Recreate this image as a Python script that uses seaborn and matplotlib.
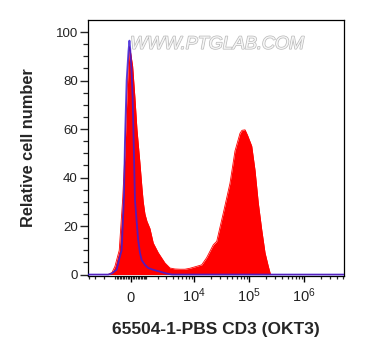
import numpy as np
import matplotlib
matplotlib.use("Agg")
import matplotlib.pyplot as plt
import matplotlib.patheffects as pe
from matplotlib.ticker import FixedLocator, FixedFormatter
import pandas as pd
import seaborn as sns

# ---- data (fluorescence intensity vs relative cell number) ----
red_x = [-4200, -1600, -1265, -1033, -820, -731, -508, -364, -260, -162, -90, -30,
         102, 241, 365, 554, 683, 772, 890, 1033, 1264, 1543, 2020, 2800, 3530,
         4400, 5480, 6790, 8410, 11180, 13790, 17000, 22440, 25870, 34100, 45100,
         55600, 68600, 74600, 84600, 93800, 112000, 128600, 147500, 170200,
         195300, 224000, 245800, 5.3e6]
red_y = [0, 0, 0.8, 3.4, 8, 10, 31, 50, 70, 86, 94, 92,
         86, 73, 60, 46, 36, 30, 25, 22, 19, 13, 9, 4.8, 2.7,
         2.3, 2.2, 2.2, 2.6, 3.4, 4, 7, 12.3, 13.7, 25.4, 37.7,
         51, 58.3, 59.5, 59.7, 57.5, 53, 43, 29.5, 18.5,
         9, 3.4, 0, 0]

blue_x = [-4200, -1575, -1265, -910, -750, -573, -471, -426, -364, -260, -150, -90,
          -42, 30, 102, 180, 241, 345, 445, 554, 664, 890, 1132, 1518, 2210, 3030,
          3850, 5.3e6]
blue_y = [0, 0, 0.5, 2, 6, 10, 25, 32, 55, 80, 92, 96.5,
          93, 85, 73, 50, 31, 22, 14, 9, 6, 4, 2.7, 2, 1.2, 0.4,
          0, 0]

x_major = [0, 1e4, 1e5, 1e6]
x_major_labels = ["0", r"$10^{4}$", r"$10^{5}$", r"$10^{6}$"]
y_major = [0, 20, 40, 60, 80, 100]

xlabel = "65504-1-PBS CD3 (OKT3)"
ylabel = "Relative cell number"
watermark = "WWW.PTGLAB.COM"

COF = 1435.0

sns.set_style("ticks")
plt.rcParams["font.family"] = ["Liberation Sans", "DejaVu Sans"]
plt.rcParams["mathtext.fontset"] = "custom"
plt.rcParams["mathtext.rm"] = "Liberation Sans"
plt.rcParams["mathtext.it"] = "Liberation Sans:italic"
plt.rcParams["mathtext.bf"] = "Liberation Sans:bold"
plt.rcParams["mathtext.default"] = "regular"

fig = plt.figure(figsize=(3.65, 3.60), dpi=100)
ax = fig.add_axes([88 / 365, 84 / 360, 256 / 365, 256 / 360])

red_df = pd.DataFrame({"x": red_x, "y": red_y})
blue_df = pd.DataFrame({"x": blue_x, "y": blue_y})

ax.set_xscale("function", functions=(lambda v: np.arcsinh(np.asarray(v) / COF),
                                     lambda v: COF * np.sinh(np.asarray(v))))

ax.fill_between(red_df["x"], 0, red_df["y"], color="#ff0000", linewidth=0, zorder=2)
sns.lineplot(data=red_df, x="x", y="y", ax=ax, color="#ff0000", lw=0.6,
             estimator=None, sort=False, zorder=2)
sns.lineplot(data=blue_df, x="x", y="y", ax=ax, color="#3a1fd8", lw=1.3,
             alpha=0.85, estimator=None, sort=False, zorder=3)

ax.set_xlim(-4200, 5.3e6)
ax.set_ylim(-0.6, 105)

# ticks
ax.xaxis.set_major_locator(FixedLocator(x_major))
ax.xaxis.set_major_formatter(FixedFormatter(x_major_labels))
minors = []
for k in range(1, 10):
    for d in (1e2, 1e3):
        minors.extend([k * d, -k * d])
    for d in (1e4, 1e5, 1e6):
        minors.append(k * d)
minors = [m for m in minors if -4200 < m < 5.3e6 and m not in x_major]
ax.xaxis.set_minor_locator(FixedLocator(minors))
ax.yaxis.set_major_locator(FixedLocator(y_major))
ax.yaxis.set_minor_locator(FixedLocator([v for v in range(5, 101, 5) if v % 20]))

ax.tick_params(axis="x", which="major", direction="out", length=4.5, width=1.0,
               labelsize=10.5, pad=14.5, colors="black")
ax.tick_params(axis="x", which="minor", direction="out", length=2.2, width=0.9)
ax.tick_params(axis="y", which="major", direction="out", length=5.8, width=1.0,
               labelsize=9.5, pad=1.5)
ax.tick_params(axis="y", which="minor", direction="out", length=3.6, width=0.9)
for lab in ax.get_xticklabels():
    lab.set_va("baseline")
    lab.set_color("#222222")
for lab in ax.get_yticklabels():
    lab.set_color("#222222")

for s in ax.spines.values():
    s.set_visible(True)
    s.set_linewidth(0.9)
    s.set_color("black")

ax.set_xlabel(xlabel, fontsize=12.5, fontweight="bold")
ax.set_ylabel(ylabel, fontsize=11.8, fontweight="bold")
ax.xaxis.set_label_coords(0.5, -0.18)
ax.yaxis.set_label_coords(-0.205, 0.5)

ax.text(0.165, 0.905, watermark, transform=ax.transAxes, fontsize=13,
        family=["Liberation Sans"], style="italic",
        color="#f6f6f6", ha="left", va="center", zorder=5,
        path_effects=[pe.withStroke(linewidth=1.0, foreground="#b8b8b8")])

fig.savefig("out.png", dpi=100, facecolor="white")
